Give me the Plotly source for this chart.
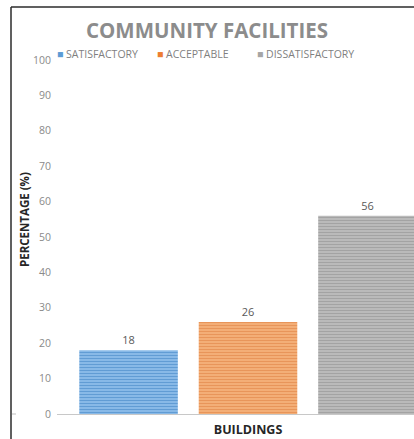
import plotly.graph_objects as go

# Survey results for community facilities
categories = ["BUILDINGS"]
series_names = ["SATISFACTORY", "ACCEPTABLE", "DISSATISFACTORY"]
satisfactory = [18]
acceptable = [26]
dissatisfactory = [56]
y_ticks = [0, 10, 20, 30, 40, 50, 60, 70, 80, 90, 100]

series_values = [satisfactory, acceptable, dissatisfactory]
bg_colors = ["#88b9e7", "#f3ae77", "#bababa"]
fg_colors = ["#619cd4", "#e8955a", "#a3a3a3"]
legend_colors = ["#5b9bd5", "#ed7d31", "#a5a5a5"]

W, H = 414, 439
L, R, T, B = 57, 0, 60, 25

fig = go.Figure()
for name, vals, bg, fg in zip(series_names, series_values, bg_colors, fg_colors):
    fig.add_trace(go.Bar(
        x=categories, y=vals, name=name,
        marker=dict(color=bg, line=dict(width=0),
                    pattern=dict(shape="-", fgcolor=fg, bgcolor=bg,
                                 size=3, solidity=0.35, fillmode="replace")),
        text=[str(v) for v in vals], textposition="outside",
        textfont=dict(family="Open Sans", size=11, color="#595959"),
        cliponaxis=True, showlegend=False,
    ))

plot_w = W - L - R
plot_h = H - T - B

# Legend row drawn as text with coloured squares
legend_x = [55, 155, 255]
annotations = []
for name, col, px in zip(series_names, legend_colors, legend_x):
    annotations.append(dict(
        text=f"<span style='color:{col}'>■</span> {name}",
        xref="paper", yref="paper",
        x=(px - L) / plot_w, y=1 + (T - 54) / plot_h,
        xanchor="left", yanchor="middle", showarrow=False,
        font=dict(family="Open Sans", size=10.5, color="#7f7f7f"),
    ))

# Vertical axis title
annotations.append(dict(
    text="<b>PERCENTAGE (%)</b>", textangle=-90,
    xref="paper", yref="paper",
    x=(24 - L) / plot_w, y=(H - B - 220) / plot_h,
    xanchor="center", yanchor="middle", showarrow=False,
    font=dict(family="Open Sans", size=11.5, color="#262626"),
))

shapes = [
    # outer chart frame (left and top edges)
    dict(type="line", xref="paper", yref="paper",
         x0=(11 - L) / plot_w, x1=(11 - L) / plot_w,
         y0=-B / plot_h, y1=1 + (T - 7) / plot_h,
         line=dict(color="#2b2b2b", width=1.5)),
    dict(type="line", xref="paper", yref="paper",
         x0=(11 - L) / plot_w, x1=1,
         y0=1 + (T - 7) / plot_h, y1=1 + (T - 7) / plot_h,
         line=dict(color="#2b2b2b", width=1.5)),
    dict(type="line", xref="paper", yref="paper",
         x0=(12 - L) / plot_w, x1=(16 - L) / plot_w, y0=0, y1=0,
         line=dict(color="#bfbfbf", width=1)),
]

fig.update_layout(
    width=W, height=H,
    margin=dict(l=L, r=R, t=T, b=B),
    paper_bgcolor="white", plot_bgcolor="white",
    barmode="group", bargap=0.062, bargroupgap=0.175,
    title=dict(text="<b>COMMUNITY FACILITIES</b>",
               x=0.5, xanchor="center",
               y=1 - 31 / H, yanchor="middle",
               font=dict(family="Open Sans", size=20.5, color="#8c8c8c")),
    xaxis=dict(range=[-0.5, -0.5 + plot_w / 382.0],
               showline=True, linecolor="#c8c8c8", linewidth=1,
               showgrid=False, zeroline=False, ticks="",
               tickvals=categories, ticktext=["<b>BUILDINGS</b>"],
               tickfont=dict(family="Open Sans", size=12.5, color="#262626"),
               ticklabelstandoff=4),
    yaxis=dict(range=[0, 100], tickvals=y_ticks,
               showgrid=False, zeroline=False, showline=False, ticks="",
               tickfont=dict(family="Open Sans", size=10.5, color="#8a8a8a"),
               ticklabelstandoff=5),
    annotations=annotations,
    shapes=shapes,
    showlegend=False,
)

fig.write_html("out.html")
